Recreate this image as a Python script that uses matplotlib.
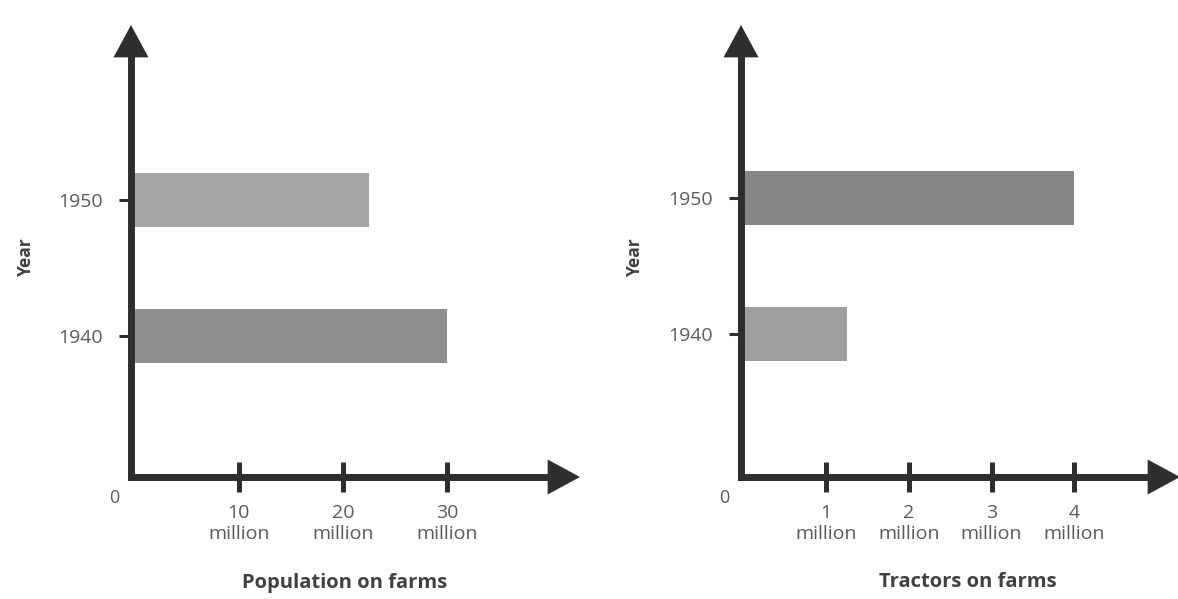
import matplotlib
matplotlib.use("Agg")
import matplotlib.pyplot as plt

# ---- data ----
years = ["1940", "1950"]
population_millions = [30.0, 22.5]
tractors_millions = [1.25, 4.0]
pop_ticks = [10, 20, 30]
pop_tick_labels = ["10\nmillion", "20\nmillion", "30\nmillion"]
trac_ticks = [1, 2, 3, 4]
trac_tick_labels = ["1\nmillion", "2\nmillion", "3\nmillion", "4\nmillion"]
pop_colors = ["#8e8e8e", "#a6a6a6"]
trac_colors = ["#9e9e9e", "#878787"]

plt.rcParams['font.family'] = ['Open Sans', 'DejaVu Sans']

W, H = 1178, 599
fig = plt.figure(figsize=(W / 100, H / 100), dpi=100)

AX_COLOR = "#2e2e2e"
TICK_TXT = "#5a5a5a"
LAB_TXT = "#404040"
LW = 5.0


def px(x0, y_bottom, x1, y_top):
    return [x0 / W, (H - y_bottom) / H, (x1 - x0) / W, (y_bottom - y_top) / H]


def make_panel(rect, xlim, ylim, values, colors, ticks, ticklabels, xlabel, xlabel_pos, ylabel_pos):
    ax = fig.add_axes(rect)
    ax.set_xlim(*xlim)
    ax.set_ylim(*ylim)
    ypos = list(range(len(years)))
    ax.barh(ypos, values, height=0.4, color=colors, left=0, zorder=1)
    for s in ax.spines.values():
        s.set_visible(False)
    ax.set_yticks(ypos)
    ax.set_yticklabels(years)
    ax.set_xticks(ticks)
    ax.set_xticklabels(ticklabels, linespacing=1.2)
    ax.tick_params(axis='y', direction='out', length=9, width=2.2, color=AX_COLOR,
                   pad=11, labelsize=14, labelcolor=TICK_TXT)
    ax.tick_params(axis='x', direction='inout', length=21, width=3.6, color=AX_COLOR,
                   pad=9, labelsize=14, labelcolor=TICK_TXT)
    bbox = ax.get_position()
    w_px = bbox.width * W
    h_px = bbox.height * H
    head = "-|>,head_length=0.37,head_width=0.2"
    # shafts
    ax.plot([0, 0], [0, 1 - 24 / h_px], transform=ax.transAxes, lw=LW, color=AX_COLOR,
            solid_capstyle='projecting', clip_on=False, zorder=3)
    ax.plot([0, 1 - 24 / w_px], [0, 0], transform=ax.transAxes, lw=LW, color=AX_COLOR,
            solid_capstyle='projecting', clip_on=False, zorder=3)
    # heads
    ax.annotate("", xy=(0, 1), xytext=(0, 0.5), xycoords='axes fraction',
                arrowprops=dict(arrowstyle=head, lw=0, color=AX_COLOR,
                                mutation_scale=63, shrinkA=0, shrinkB=0),
                annotation_clip=False, zorder=3)
    ax.annotate("", xy=(1, 0), xytext=(0.5, 0), xycoords='axes fraction',
                arrowprops=dict(arrowstyle=head, lw=0, color=AX_COLOR,
                                mutation_scale=63, shrinkA=0, shrinkB=0),
                annotation_clip=False, zorder=3)
    ax.annotate("0", xy=(0, 0), xycoords='axes fraction', xytext=(-17, -21),
                textcoords='offset pixels', ha='center', va='center',
                fontsize=13, color=TICK_TXT)
    fig.text(xlabel_pos[0] / W, 1 - xlabel_pos[1] / H, xlabel, ha='center', va='center',
             fontsize=14.5, fontweight='bold', color=LAB_TXT)
    fig.text(ylabel_pos[0] / W, 1 - ylabel_pos[1] / H, "Year", ha='center', va='center',
             rotation=90, fontsize=12.5, fontweight='bold', color=LAB_TXT)
    return ax


make_panel(px(131, 477, 580, 25), (-0.35, 42.8), (-1.037, 2.286),
           population_millions, pop_colors, pop_ticks, pop_tick_labels,
           "Population on farms", (345, 583), (26, 257))

make_panel(px(741, 477, 1180, 25), (-0.03, 5.28), (-1.051, 2.272),
           tractors_millions, trac_colors, trac_ticks, trac_tick_labels,
           "Tractors on farms", (968, 582), (635, 257))

fig.savefig("out.png", dpi=100)
